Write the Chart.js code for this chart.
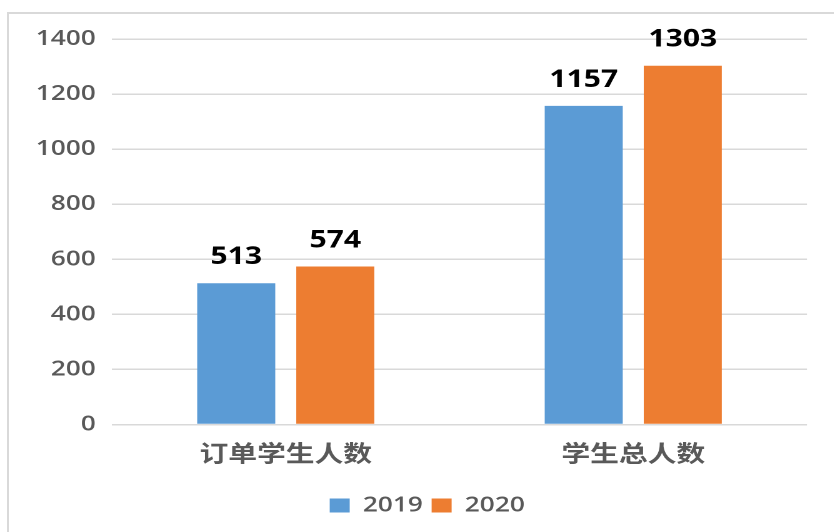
<!DOCTYPE html>
<html>
<head>
<meta charset="utf-8">
<script src="https://cdn.jsdelivr.net/npm/chart.js@4.4.1/dist/chart.umd.min.js"></script>
<style>
  html, body { margin: 0; padding: 0; background: #fff; }
  #wrap { position: relative; width: 834px; height: 532px; overflow: hidden; }
  #frame { position: absolute; left: 7px; top: 12px; width: 900px; height: 600px; border: 2px solid #d9d9d9; box-sizing: border-box; }
  #stretch { position: absolute; left: 0; top: 0; width: 667.2px; height: 532px; transform: scaleX(1.25); transform-origin: 0 0; }
</style>
</head>
<body>
<div id="wrap">
  <div id="frame"></div>
  <div id="stretch"><canvas id="myChart"></canvas></div>
</div>
<script>
const categories = ['订单学生人数', '学生总人数'];
const seriesNames = ['2019', '2020'];
const values2019 = [513, 1157];
const values2020 = [574, 1303];
const yTicks = [0, 200, 400, 600, 800, 1000, 1200, 1400];

const FONT = "'Open Sans', 'Noto Sans CJK SC', sans-serif";
const GRAY = '#595959';

// draw the value above each bar
const barLabels = {
  id: 'barLabels',
  afterDatasetsDraw(chart) {
    const ctx = chart.ctx;
    ctx.save();
    ctx.font = 'bold 24px ' + FONT;
    ctx.fillStyle = '#000';
    ctx.textAlign = 'center';
    ctx.textBaseline = 'alphabetic';
    chart.data.datasets.forEach((ds, i) => {
      chart.getDatasetMeta(i).data.forEach((bar, j) => {
        ctx.fillText(String(ds.data[j]), bar.x, bar.y - 19);
      });
    });
    ctx.restore();
  }
};

// legend sits a bit right of centre in the original
const legendShift = {
  id: 'legendShift',
  afterLayout(chart) {
    chart.legend.left += 19;
    chart.legend.right += 19;
  }
};

const ctx = document.getElementById('myChart').getContext('2d');
new Chart(ctx, {
  type: 'bar',
  data: {
    labels: categories,
    datasets: [
      { label: seriesNames[0], data: values2019, backgroundColor: '#5B9BD5' },
      { label: seriesNames[1], data: values2020, backgroundColor: '#ED7D31' }
    ]
  },
  options: {
    responsive: true,
    maintainAspectRatio: false,
    animation: false,
    devicePixelRatio: 2,
    categoryPercentage: 0.57,
    barPercentage: 0.788,
    layout: { padding: { left: 0, right: 21.6, top: 39, bottom: 6 } },
    scales: {
      x: {
        afterFit(scale) { scale.height = 63.5; },
        grid: { display: false },
        border: { display: false },
        ticks: { color: GRAY, font: { family: FONT, size: 23, weight: 'bold' }, padding: 8.5 }
      },
      y: {
        min: 0,
        max: 1400,
        afterFit(scale) { scale.width = 89.6; },
        afterBuildTicks(scale) { scale.ticks = yTicks.map(v => ({ value: v })); },
        grid: { color: '#d9d9d9', lineWidth: 1.5, drawTicks: false },
        border: { display: false },
        ticks: {
          color: GRAY,
          font: { family: FONT, size: 21, weight: 600 },
          padding: 13,
          callback: v => String(v)
        }
      }
    },
    plugins: {
      legend: {
        display: true,
        position: 'bottom',
        labels: {
          boxWidth: 16,
          boxHeight: 14,
          padding: 7,
          color: GRAY,
          font: { family: FONT, size: 21, weight: 600 }
        }
      },
      tooltip: { enabled: false }
    }
  },
  plugins: [barLabels, legendShift]
});
</script>
</body>
</html>
